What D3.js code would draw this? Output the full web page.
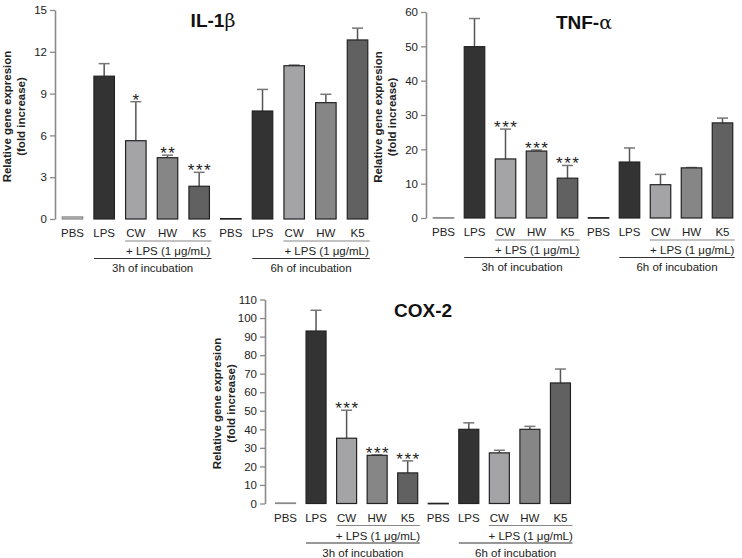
<!DOCTYPE html>
<html>
<head>
<meta charset="utf-8">
<script src="https://cdnjs.cloudflare.com/ajax/libs/d3/7.8.5/d3.min.js"></script>
<style>
  body { margin: 0; background: #fff; }
  svg { display: block; font-family: "Liberation Sans", Arial, sans-serif; }
</style>
</head>
<body>
<script>
// data
var categories = ['PBS', 'LPS', 'CW', 'HW', 'K5', 'PBS', 'LPS', 'CW', 'HW', 'K5'];
var groupLabels = ['3h of incubation', '6h of incubation'];
var lpsLabel = '+ LPS (1 \u03bcg/mL)';

var il1bMean = [0.15, 10.25, 5.62, 4.4, 2.35, 0.03, 7.75, 11.0, 8.35, 12.85];
var il1bSem = [0, 0.9, 2.8, 0.18, 1.0, 0, 1.55, 0.05, 0.6, 0.85];
var il1bStars = ['', '', '*', '**', '***', '', '', '', '', ''];
var il1bTicks = [0, 3, 6, 9, 12, 15];

var tnfMean = [0.1, 49.9, 17.2, 19.5, 11.6, 0.1, 16.3, 9.7, 14.6, 27.7];
var tnfSem = [0, 8.2, 8.7, 0.3, 3.7, 0, 4.1, 3.0, 0.1, 1.4];
var tnfStars = ['', '', '***', '***', '***', '', '', '', '', ''];
var tnfTicks = [0, 10, 20, 30, 40, 50, 60];

var coxMean = [0.3, 93, 35.2, 26, 16.5, 0.1, 40, 27.3, 40, 65];
var coxSem = [0, 11.2, 15.1, 0.2, 6.5, 0, 3.5, 1.4, 1.6, 7.5];
var coxStars = ['', '', '***', '***', '***', '', '', '', '', ''];
var coxTicks = [0, 10, 20, 30, 40, 50, 60, 70, 80, 90, 100, 110];

var fills = { PBS: '#c8c8c8', LPS: '#333333', CW: '#a4a4a7', HW: '#868686', K5: '#616161' };

var svg = d3.select('body').append('svg')
    .attr('width', 742)
    .attr('height', 558);

var panel = function(cfg) {
    var g = svg.append('g');
    var y = d3.scaleLinear()
        .domain([0, cfg.ticks[cfg.ticks.length - 1]])
        .range([cfg.y0, cfg.yTop]);
    var pad = (cfg.step - cfg.bw) / cfg.step;
    var x = d3.scaleBand()
        .domain(d3.range(categories.length))
        .range([cfg.c0 - cfg.step / 2, cfg.c0 + (categories.length - 0.5) * cfg.step])
        .paddingInner(pad)
        .paddingOuter(pad / 2);
    var bw = x.bandwidth();
    var idx = d3.range(categories.length);

    // y axis
    var ax = g.append('g')
        .attr('transform', 'translate(' + cfg.ax + ',0)')
        .call(d3.axisLeft(y).tickValues(cfg.ticks).tickSize(5).tickSizeOuter(0).tickPadding(3));
    ax.select('.domain').attr('stroke', '#8a8a8a').attr('stroke-width', 1.6);
    ax.selectAll('.tick line').attr('stroke', '#8a8a8a').attr('stroke-width', 1.3);
    ax.selectAll('.tick text')
        .attr('fill', '#222')
        .style('font-size', '11.5px')
        .style('font-family', '"Liberation Sans", Arial, sans-serif');

    // y title
    var ymid = (cfg.y0 + cfg.yTop) / 2 + 2;
    var yt = g.append('text')
        .attr('transform', 'translate(' + (cfg.ax - 44) + ',' + ymid + ') rotate(-90)')
        .attr('text-anchor', 'middle')
        .attr('font-size', '11.5px')
        .attr('font-weight', 'bold')
        .attr('fill', '#222');
    yt.append('tspan').attr('x', 0).attr('y', 0).text('Relative gene expresion');
    yt.append('tspan').attr('x', 0).attr('y', 14).text('(fold increase)');

    // title
    var tt = g.append('text')
        .attr('x', cfg.ax + 158)
        .attr('y', cfg.yTop + 17)
        .attr('text-anchor', 'middle')
        .attr('font-size', '19px')
        .attr('font-weight', 'bold')
        .attr('fill', '#111');
    tt.append('tspan').text(cfg.title);
    tt.append('tspan').attr('font-weight', 'normal').attr('font-family', '"DejaVu Serif", serif').text(cfg.greek);

    // error bars (upper only)
    var err = g.selectAll('.err')
        .data(idx.filter(function(i) { return cfg.sem[i] > 0; }))
        .enter().append('g');
    err.append('line')
        .attr('x1', function(i) { return x(i) + bw / 2; })
        .attr('x2', function(i) { return x(i) + bw / 2; })
        .attr('y1', function(i) { return y(cfg.mean[i]); })
        .attr('y2', function(i) { return y(cfg.mean[i] + cfg.sem[i]); })
        .attr('stroke', '#555')
        .attr('stroke-width', 1.5);
    err.append('line')
        .attr('x1', function(i) { return x(i) + bw / 2 - 5.5; })
        .attr('x2', function(i) { return x(i) + bw / 2 + 5.5; })
        .attr('y1', function(i) { return y(cfg.mean[i] + cfg.sem[i]); })
        .attr('y2', function(i) { return y(cfg.mean[i] + cfg.sem[i]); })
        .attr('stroke', '#777')
        .attr('stroke-width', 1.5);

    // bars
    g.selectAll('.bar')
        .data(cfg.mean)
        .enter().append('rect')
        .attr('x', function(d, i) { return x(i); })
        .attr('width', bw)
        .attr('y', function(d) { return y(d); })
        .attr('height', function(d) { return Math.max(0.5, cfg.y0 - y(d)); })
        .attr('fill', function(d, i) { return fills[categories[i]]; })
        .attr('stroke', function(d, i) { return i === 0 ? '#888' : '#222'; })
        .attr('stroke-width', 1.2);

    // significance stars
    g.selectAll('.star')
        .data(cfg.stars)
        .enter().append('text')
        .attr('x', function(d, i) { return x(i) + bw / 2 + 0.8; })
        .attr('y', function(d, i) { return y(cfg.mean[i] + cfg.sem[i]) + 4; })
        .attr('text-anchor', 'middle')
        .attr('font-size', '17px')
        .attr('letter-spacing', '1.5px')
        .attr('fill', '#222')
        .text(function(d) { return d; });

    // category labels
    g.selectAll('.cat')
        .data(categories)
        .enter().append('text')
        .attr('x', function(d, i) { return x(i) + bw / 2; })
        .attr('y', cfg.y0 + 18)
        .attr('text-anchor', 'middle')
        .attr('font-size', '11.5px')
        .attr('fill', '#222')
        .text(function(d) { return d; });

    // group brackets
    [0, 5].forEach(function(s, k) {
        var right = x(s + 4) + bw + 2;
        var l1 = x(s + 2) - 0.5;
        var l2 = x(s + 1);
        g.append('line')
            .attr('x1', l1).attr('x2', right)
            .attr('y1', cfg.y0 + 22).attr('y2', cfg.y0 + 22)
            .attr('stroke', '#888').attr('stroke-width', 1.2);
        g.append('text')
            .attr('x', (l1 + right) / 2)
            .attr('y', cfg.y0 + 36)
            .attr('text-anchor', 'middle')
            .attr('font-size', '11.5px')
            .attr('fill', '#222')
            .text(lpsLabel);
        g.append('line')
            .attr('x1', l2).attr('x2', right)
            .attr('y1', cfg.y0 + 39.5).attr('y2', cfg.y0 + 39.5)
            .attr('stroke', '#333').attr('stroke-width', 1.2);
        g.append('text')
            .attr('x', (l2 + right) / 2)
            .attr('y', cfg.y0 + 53)
            .attr('text-anchor', 'middle')
            .attr('font-size', '11.5px')
            .attr('fill', '#222')
            .text(groupLabels[k]);
    });
};

panel({ title: 'IL-1', greek: '\u03b2', mean: il1bMean, sem: il1bSem, stars: il1bStars, ticks: il1bTicks,
        ax: 55, y0: 219, yTop: 10, c0: 72.5, step: 31.67, bw: 20.5 });
panel({ title: 'TNF-', greek: '\u03b1', mean: tnfMean, sem: tnfSem, stars: tnfStars, ticks: tnfTicks,
        ax: 426, y0: 218, yTop: 12, c0: 443.5, step: 31, bw: 20.5 });
panel({ title: 'COX-2', greek: '', mean: coxMean, sem: coxSem, stars: coxStars, ticks: coxTicks,
        ax: 265, y0: 503.5, yTop: 299.5, c0: 285.5, step: 30.55, bw: 20 });
</script>
</body>
</html>
